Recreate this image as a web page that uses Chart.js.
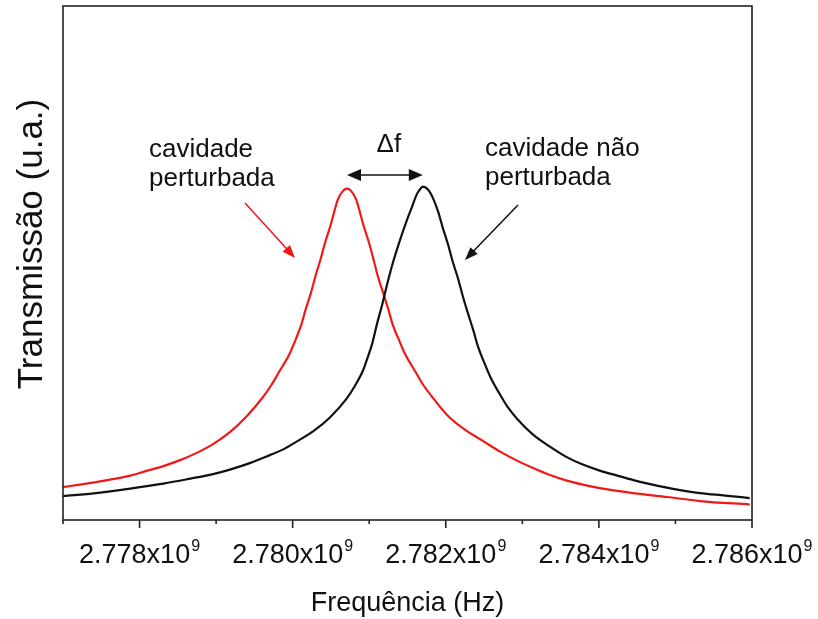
<!DOCTYPE html>
<html>
<head>
<meta charset="utf-8">
<script src="https://cdn.jsdelivr.net/npm/chart.js@4.4.0/dist/chart.umd.min.js"></script>
<style>
  html, body { margin: 0; padding: 0; background: #fff; }
  #wrap { position: relative; width: 818px; height: 619px; }
</style>
</head>
<body>
<div id="wrap"><canvas id="c"></canvas></div>
<script>
// frequency in GHz, transmission in arbitrary units
const freqPerturbed = [2.77700, 2.77722, 2.77743, 2.77765, 2.77788, 2.77808, 2.77831, 2.77853, 2.77874, 2.77896,
  2.77918, 2.77940, 2.77961, 2.77972, 2.77982, 2.77995, 2.78004, 2.78011, 2.78017, 2.78024,
  2.78030, 2.78036, 2.78042, 2.78049, 2.78054, 2.78059, 2.78066, 2.78071,
  2.78076, 2.78083, 2.78088, 2.78093, 2.78100, 2.78106, 2.78111, 2.78118, 2.78125, 2.78131,
  2.78138, 2.78147, 2.78160, 2.78170, 2.78181, 2.78202, 2.78224, 2.78250, 2.78271, 2.78293,
  2.78314, 2.78336, 2.78358, 2.78379, 2.78401, 2.78445, 2.78489, 2.78532, 2.78597];
const transPerturbed = [0.0641, 0.0689, 0.0738, 0.0796, 0.0864, 0.0951, 0.1049, 0.1165, 0.1301, 0.1476,
  0.1709, 0.2019, 0.2388, 0.2621, 0.2874, 0.3204, 0.3515, 0.3786, 0.4097, 0.4427,
  0.4757, 0.5049, 0.5379, 0.5709, 0.5981, 0.6233, 0.6408, 0.6447,
  0.6408, 0.6233, 0.5981, 0.5709, 0.5379, 0.5049, 0.4757, 0.4427, 0.4097, 0.3786,
  0.3534, 0.3223, 0.2893, 0.2641, 0.2417, 0.2039, 0.1767, 0.1524, 0.1330, 0.1155,
  0.1010, 0.0874, 0.0767, 0.0689, 0.0621, 0.0524, 0.0447, 0.0369, 0.0301];

const freqFree = [2.77700, 2.77743, 2.77788, 2.77831, 2.77863, 2.77896, 2.77918, 2.77944, 2.77970, 2.77987,
  2.78004, 2.78027, 2.78049, 2.78070, 2.78081, 2.78092, 2.78098, 2.78104, 2.78110, 2.78117,
  2.78123, 2.78131, 2.78140, 2.78149, 2.78156, 2.78162, 2.78166, 2.78170,
  2.78177, 2.78183, 2.78190, 2.78196, 2.78203, 2.78209, 2.78216, 2.78222, 2.78229, 2.78236,
  2.78242, 2.78249, 2.78259, 2.78271, 2.78281, 2.78293, 2.78314, 2.78336, 2.78358, 2.78379,
  2.78401, 2.78424, 2.78445, 2.78467, 2.78489, 2.78510, 2.78532, 2.78565, 2.78597];
const transFree = [0.0466, 0.0524, 0.0612, 0.0709, 0.0796, 0.0893, 0.0981, 0.1107, 0.1262, 0.1369,
  0.1515, 0.1728, 0.2000, 0.2350, 0.2602, 0.2913, 0.3165, 0.3437, 0.3806, 0.4194,
  0.4563, 0.5010, 0.5437, 0.5825, 0.6097, 0.6330, 0.6427, 0.6485,
  0.6427, 0.6272, 0.6000, 0.5689, 0.5359, 0.5029, 0.4699, 0.4369, 0.4019, 0.3689,
  0.3379, 0.3107, 0.2757, 0.2437, 0.2194, 0.1971, 0.1660, 0.1427, 0.1223, 0.1078,
  0.0961, 0.0864, 0.0777, 0.0699, 0.0631, 0.0573, 0.0524, 0.0476, 0.0427];

const majorTicks = [2.778, 2.780, 2.782, 2.784, 2.786];
const minorTicks = [2.777, 2.779, 2.781, 2.783, 2.785];

const xTitle = "Frequência (Hz)";
const yTitle = "Transmissão (u.a.)";
const labelPerturbed = ["cavidade", "perturbada"];
const labelFree = ["cavidade não", "perturbada"];
const deltaLabel = "Δf";

const FONT = "'Liberation Sans', Arial, sans-serif";
const RED = "#f01818";

function toPoints(xs, ys) {
  return xs.map((x, i) => ({ x: x, y: ys[i] }));
}

function arrowHead(ctx, x1, y1, x2, y2, len, half) {
  const a = Math.atan2(y2 - y1, x2 - x1);
  ctx.beginPath();
  ctx.moveTo(x2, y2);
  ctx.lineTo(x2 - len * Math.cos(a) + half * Math.sin(a), y2 - len * Math.sin(a) - half * Math.cos(a));
  ctx.lineTo(x2 - len * Math.cos(a) - half * Math.sin(a), y2 - len * Math.sin(a) + half * Math.cos(a));
  ctx.closePath();
  ctx.fill();
}

function arrow(ctx, x1, y1, x2, y2, color) {
  ctx.strokeStyle = color;
  ctx.fillStyle = color;
  ctx.lineWidth = 1.5;
  const a = Math.atan2(y2 - y1, x2 - x1);
  ctx.beginPath();
  ctx.moveTo(x1, y1);
  ctx.lineTo(x2 - 10 * Math.cos(a), y2 - 10 * Math.sin(a));
  ctx.stroke();
  arrowHead(ctx, x1, y1, x2, y2, 13, 5);
}

// frame, ticks, labels and annotations drawn on top of the plot
const decorations = {
  id: "decorations",
  afterDraw(chart) {
    const ctx = chart.ctx;
    const xs = chart.scales.x;
    const a = chart.chartArea;
    ctx.save();

    ctx.strokeStyle = "#222";
    ctx.lineWidth = 1.6;
    ctx.strokeRect(a.left, a.top, a.right - a.left, a.bottom - a.top);

    ctx.beginPath();
    majorTicks.forEach(v => {
      const px = xs.getPixelForValue(v);
      ctx.moveTo(px, a.bottom); ctx.lineTo(px, a.bottom + 8);
    });
    minorTicks.forEach(v => {
      const px = xs.getPixelForValue(v);
      ctx.moveTo(px, a.bottom); ctx.lineTo(px, a.bottom + 4);
    });
    ctx.stroke();

    // tick labels like 2.778x10^9
    ctx.fillStyle = "#111";
    ctx.textBaseline = "alphabetic";
    majorTicks.forEach(v => {
      const px = xs.getPixelForValue(v);
      const main = v.toFixed(3) + "x10";
      ctx.font = "27px " + FONT;
      const w1 = ctx.measureText(main).width;
      ctx.font = "16px " + FONT;
      const w2 = ctx.measureText("9").width;
      const x0 = px - (w1 + w2 + 1) / 2;
      ctx.font = "27px " + FONT;
      ctx.textAlign = "left";
      ctx.fillText(main, x0, a.bottom + 43);
      ctx.font = "16px " + FONT;
      ctx.fillText("9", x0 + w1 + 1, a.bottom + 31);
    });

    ctx.textAlign = "center";
    ctx.font = "27px " + FONT;
    ctx.fillText(xTitle, (a.left + a.right) / 2, a.bottom + 91);

    ctx.save();
    ctx.translate(42, 244);
    ctx.rotate(-Math.PI / 2);
    ctx.font = "35px " + FONT;
    ctx.fillText(yTitle, 0, 0);
    ctx.restore();

    // annotations
    ctx.font = "26px " + FONT;
    ctx.textAlign = "left";
    ctx.fillText(labelPerturbed[0], 149, 157);
    ctx.fillText(labelPerturbed[1], 149, 186);
    ctx.fillText(labelFree[0], 485, 156);
    ctx.fillText(labelFree[1], 485, 185);

    const pRed = freqPerturbed[transPerturbed.indexOf(Math.max(...transPerturbed))];
    const pBlack = freqFree[transFree.indexOf(Math.max(...transFree))];
    const xr = xs.getPixelForValue(pRed), xb = xs.getPixelForValue(pBlack);
    ctx.textAlign = "center";
    ctx.fillText(deltaLabel, (xr + xb) / 2 + 4, 152);

    const ya = 175;
    ctx.strokeStyle = "#111";
    ctx.fillStyle = "#111";
    ctx.lineWidth = 1.5;
    ctx.beginPath();
    ctx.moveTo(xr + 10, ya); ctx.lineTo(xb - 10, ya);
    ctx.stroke();
    arrowHead(ctx, xb, ya, xr, ya, 14, 6);
    arrowHead(ctx, xr, ya, xb, ya, 14, 6);

    arrow(ctx, 245, 203, 295, 258, RED);
    arrow(ctx, 518, 205, 465, 260, "#111");

    ctx.restore();
  }
};

new Chart(document.getElementById("c"), {
  type: "line",
  data: {
    datasets: [
      { label: "cavidade não perturbada", data: toPoints(freqFree, transFree), borderColor: "#111", borderWidth: 2.2 },
      { label: "cavidade perturbada", data: toPoints(freqPerturbed, transPerturbed), borderColor: RED, borderWidth: 2.2 }
    ]
  },
  options: {
    responsive: true,
    maintainAspectRatio: false,
    animation: false,
    layout: { padding: { left: 63, right: 66, top: 6, bottom: 99 } },
    elements: { point: { radius: 0 }, line: { cubicInterpolationMode: "monotone" } },
    plugins: { legend: { display: false }, tooltip: { enabled: false } },
    scales: {
      x: { type: "linear", min: 2.777, max: 2.786, display: false },
      y: { type: "linear", min: 0, max: 1, display: false }
    }
  },
  plugins: [decorations]
});
</script>
</body>
</html>
